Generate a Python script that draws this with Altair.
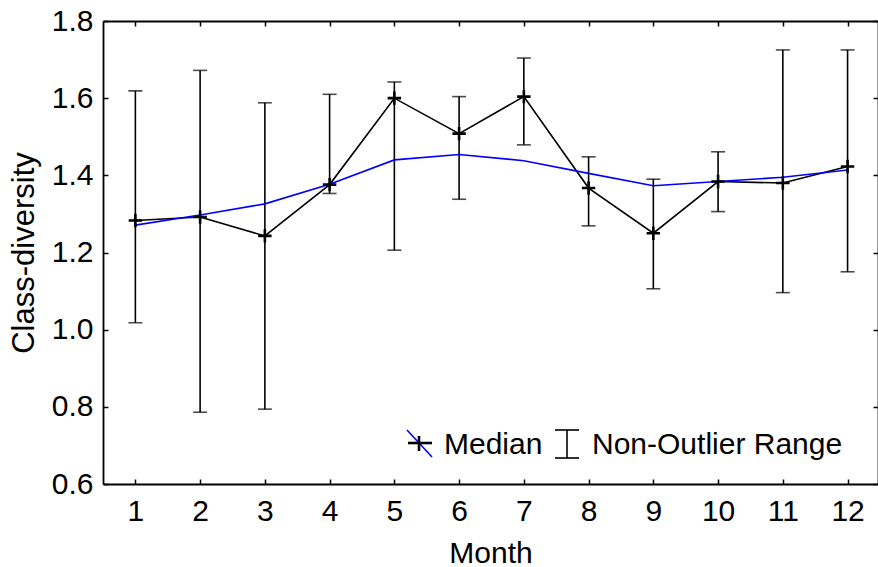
import altair as alt
import pandas as pd

months = list(range(1, 13))
median = [1.283, 1.292, 1.243, 1.376, 1.600, 1.508, 1.604, 1.367, 1.250, 1.384, 1.380, 1.423]
range_low = [1.018, 0.786, 0.794, 1.353, 1.206, 1.338, 1.479, 1.269, 1.106, 1.306, 1.096, 1.150]
range_high = [1.619, 1.672, 1.588, 1.610, 1.642, 1.604, 1.704, 1.448, 1.390, 1.461, 1.725, 1.725]
smooth = [1.271, 1.297, 1.326, 1.377, 1.440, 1.454, 1.438, 1.405, 1.373, 1.384, 1.395, 1.414]

y_ticks = [0.6, 0.8, 1.0, 1.2, 1.4, 1.6, 1.8]
x_ticks = months

df = pd.DataFrame({"month": months, "median": median, "low": range_low,
                   "high": range_high, "smooth": smooth})

W, H = 775, 463
FONT = "Liberation Sans"
FS = 30

xs = alt.Scale(domain=[0.5, 12.47], nice=False, zero=False)
ys = alt.Scale(domain=[0.6, 1.8], nice=False, zero=False)

base = alt.Chart(df)

# error bars (with the labelled axes)
bars = base.mark_rule(color="black", strokeWidth=1.6).encode(
    x=alt.X("month:Q", scale=xs, axis=alt.Axis(
        values=x_ticks, orient="bottom", ticks=False, tickSize=0, domain=False, grid=False,
        labelPadding=12, labelFontSize=FS, labelFont=FONT, labelColor="black",
        title="Month", titleFont=FONT, titleFontSize=FS, titleFontWeight="normal",
        titleColor="black", titleX=W / 2, titleY=78, titleBaseline="alphabetic",
        titleAnchor="middle")),
    y=alt.Y("low:Q", scale=ys, axis=alt.Axis(
        values=y_ticks, format=".1f", orient="left", ticks=False, tickSize=0, domain=False,
        grid=False, labelPadding=10, labelFontSize=FS, labelFont=FONT, labelColor="black",
        title="Class-diversity", titleFont=FONT, titleFontSize=FS + 1, titleFontWeight="normal",
        titleColor="black", titleAngle=-90, titleX=-70, titleY=H / 2,
        titleBaseline="alphabetic", titleAlign="center")),
    y2="high:Q",
)

tick_axis = dict(ticks=True, tickSize=5, tickWidth=1.5, tickColor="black", labels=False,
                 domain=True, domainColor="black", domainWidth=1.8, grid=False, title=None)

caps_low = base.mark_tick(orient="horizontal", size=14, thickness=1.6, color="black").encode(
    x=alt.X("month:Q", scale=xs, axis=alt.Axis(values=x_ticks, orient="top", offset=-H, **tick_axis)),
    y=alt.Y("low:Q", scale=ys, axis=alt.Axis(values=y_ticks, orient="right", offset=-W, **tick_axis)),
)
caps_high = base.mark_tick(orient="horizontal", size=14, thickness=1.6, color="black").encode(
    x=alt.X("month:Q", scale=xs, axis=None),
    y=alt.Y("high:Q", scale=ys, axis=None),
)

median_line = base.mark_line(color="black", strokeWidth=1.6).encode(
    x=alt.X("month:Q", scale=xs, axis=alt.Axis(values=x_ticks, orient="bottom", offset=-H, **tick_axis)),
    y=alt.Y("median:Q", scale=ys, axis=alt.Axis(values=y_ticks, orient="left", offset=-W, **tick_axis)),
)

smooth_line = base.mark_line(color="#0000ff", strokeWidth=1.6).encode(
    x=alt.X("month:Q", scale=xs, axis=None),
    y=alt.Y("smooth:Q", scale=ys, axis=None),
)

median_pts = base.mark_point(shape="M-1,0L1,0M0,-1L0,1", size=180, filled=False,
                             color="black", strokeWidth=2.6, opacity=1).encode(
    x=alt.X("month:Q", scale=xs, axis=None),
    y=alt.Y("median:Q", scale=ys, axis=None),
)

# manual legend (pixel positions inside the plot area)
one = alt.Data(values=[{}])
def rule(x1, y1, x2, y2, color="black", sw=1.6):
    return alt.Chart(one).mark_rule(color=color, strokeWidth=sw).encode(
        x=alt.value(x1), y=alt.value(y1), x2=alt.value(x2), y2=alt.value(y2))

def text(x, y, t):
    return alt.Chart(one).mark_text(text=t, align="left", baseline="alphabetic",
                                    font=FONT, fontSize=FS, color="black").encode(
        x=alt.value(x), y=alt.value(y))

legend = [
    rule(304, 409, 329, 436, color="#0000ff", sw=1.6),
    rule(305, 422, 329, 422, sw=2.6),
    rule(316, 415, 316, 430, sw=2.6),
    text(341, 433, "Median"),
    rule(464, 409, 464, 437),
    rule(452, 409, 476, 409),
    rule(452, 437, 476, 437),
    text(489, 433, "Non-Outlier Range"),
]

chart = alt.layer(bars, caps_low, caps_high, median_line, smooth_line, median_pts, *legend).resolve_axis(
    x="independent", y="independent"
).properties(
    width=W, height=H,
    autosize=alt.AutoSizeParams(type="none"),
    padding={"left": 103, "top": 21, "right": 0, "bottom": 83},
).configure_view(strokeWidth=0).configure(background="white")

chart.save("out.html", embed_options={"renderer": "svg", "actions": False})
